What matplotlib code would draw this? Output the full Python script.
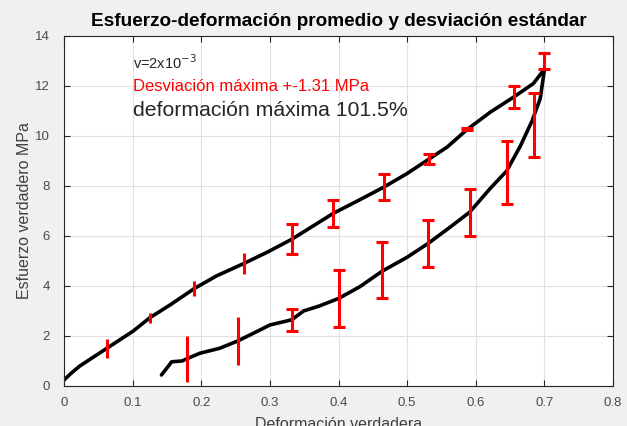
import numpy as np
import matplotlib
matplotlib.use('Agg')
import matplotlib.pyplot as plt

plt.rcParams['font.family'] = ['Liberation Sans', 'DejaVu Sans']

# upper branch
xu = [0.0, 0.01, 0.023, 0.062, 0.101, 0.125, 0.155, 0.19, 0.222, 0.262, 0.296,
      0.332, 0.36, 0.392, 0.431, 0.467, 0.50, 0.532, 0.558, 0.587, 0.621, 0.656, 0.684, 0.70]
yu = [0.24, 0.5, 0.8, 1.5, 2.2, 2.73, 3.25, 3.9, 4.4, 4.9, 5.35,
      5.87, 6.35, 6.9, 7.45, 7.97, 8.5, 9.08, 9.55, 10.25, 10.95, 11.57, 12.1, 12.67]

# lower branch
xl = [0.142, 0.157, 0.172, 0.179, 0.198, 0.227, 0.253, 0.276, 0.30, 0.332, 0.349, 0.372,
      0.40, 0.431, 0.464, 0.50, 0.531, 0.56, 0.591, 0.621, 0.645, 0.665, 0.682, 0.694, 0.70]
yl = [0.44, 0.97, 1.0, 1.09, 1.31, 1.51, 1.8, 2.11, 2.44, 2.65, 3.0, 3.2,
      3.5, 3.97, 4.6, 5.15, 5.71, 6.3, 6.95, 7.9, 8.6, 9.6, 10.6, 11.5, 12.64]

# error bars without caps
xe1 = [0.062, 0.125, 0.19, 0.262, 0.179, 0.253]
ye1 = [1.5, 2.73, 3.9, 4.9, 1.09, 1.8]
ee1 = [0.37, 0.19, 0.3, 0.41, 0.91, 0.97]

# error bars with caps
xe2 = [0.332, 0.392, 0.467, 0.532, 0.587, 0.656, 0.70,
       0.332, 0.40, 0.464, 0.531, 0.591, 0.645, 0.685]
ye2 = [5.87, 6.9, 7.97, 9.08, 10.28, 11.57, 13.0,
       2.65, 3.5, 4.65, 5.7, 6.95, 8.54, 10.45]
ee2 = [0.6, 0.55, 0.53, 0.2, 0.03, 0.43, 0.33,
       0.45, 1.13, 1.11, 0.93, 0.95, 1.27, 1.28]

fig = plt.figure(figsize=(6.27, 4.26), dpi=100, facecolor='#f0f0f0')
ax = fig.add_axes([64/627, 40/426, 549/627, 350/426])

ax.plot(xu, yu, color='black', linewidth=2.6, solid_capstyle='round')
ax.plot(xl, yl, color='black', linewidth=2.6, solid_capstyle='round')
ax.errorbar(xe1, ye1, yerr=ee1, fmt='none', ecolor='red', elinewidth=2.2, capsize=0, zorder=3)
ax.errorbar(xe2, ye2, yerr=ee2, fmt='none', ecolor='red', elinewidth=2.2, capsize=4, capthick=2.2, zorder=3)

ax.text(0.1, 12.95, 'v=2x10$^{-3}$', fontsize=10.5, color='#262626', va='center')
ax.text(0.1, 11.97, 'Desviación máxima +-1.31 MPa', fontsize=12, color='red', va='center')
ax.text(0.1, 11.0, 'deformación máxima 101.5%', fontsize=15.3, color='#262626', va='center')

ax.set_xlim(0, 0.8)
ax.set_ylim(0, 14)
ax.set_xticks(np.arange(0, 0.81, 0.1))
ax.set_xticklabels(['0', '0.1', '0.2', '0.3', '0.4', '0.5', '0.6', '0.7', '0.8'])
ax.set_yticks(np.arange(0, 15, 2))
ax.grid(True, color='#e0e0e0', linewidth=0.8)
ax.set_axisbelow(True)
ax.tick_params(direction='in', top=True, right=True, length=4, width=0.8,
               labelsize=9.5, colors='#262626', labelcolor='#4a4a4a')
ax.tick_params(axis='x', pad=8)
ax.tick_params(axis='y', pad=10)
for s in ax.spines.values():
    s.set_color('#262626')
    s.set_linewidth(0.8)

ax.set_title('Esfuerzo-deformación promedio y desviación estándar',
             fontsize=13.7, fontweight='bold', color='black', pad=7)
ax.set_xlabel('Deformación verdadera', fontsize=11.5, color='#404040', labelpad=6)
ax.set_ylabel('Esfuerzo verdadero MPa', fontsize=11.5, color='#404040', labelpad=2)

plt.savefig('out.png', dpi=100, facecolor=fig.get_facecolor())
plt.close()
